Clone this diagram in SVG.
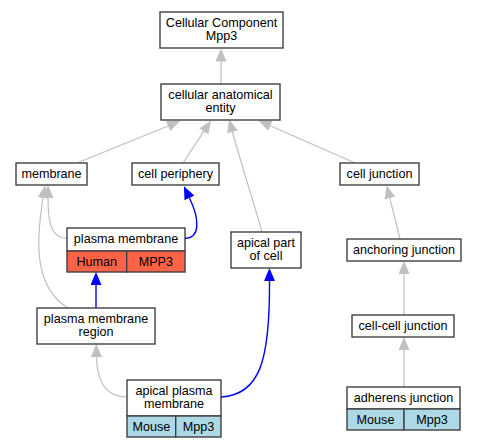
<svg xmlns="http://www.w3.org/2000/svg" width="477" height="448" viewBox="0 0 477 448">
<defs>
<style>
.n{fill:#fff;stroke:#404040;stroke-width:1.4}
.h{fill:#ff6347;stroke:#404040;stroke-width:1.4}
.m{fill:#add8e6;stroke:#404040;stroke-width:1.4}
text{font-family:"Liberation Sans",Arial,sans-serif;font-size:12.6px;fill:#000;text-anchor:middle}
.g{fill:none;stroke:#c0c0c0;stroke-width:1.2}
.b{fill:none;stroke:#0000ff;stroke-width:1.4}
</style>
<marker id="ag" markerUnits="userSpaceOnUse" viewBox="0 0 13 11" refX="0" refY="5.5" markerWidth="13" markerHeight="11" orient="auto"><polygon points="0,0 13,5.5 0,11" fill="#c0c0c0"/></marker>
<marker id="ab" markerUnits="userSpaceOnUse" viewBox="0 0 13 11" refX="0" refY="5.5" markerWidth="13" markerHeight="11" orient="auto"><polygon points="0,0 13,5.5 0,11" fill="#0000ff"/></marker>
</defs>
<rect width="477" height="448" fill="#fff"/>
<g id="edges">
<path class="g" marker-end="url(#ag)" d="M221,84 L221,61.5"/>
<path class="g" marker-end="url(#ag)" d="M77,163 L168,126"/>
<path class="g" marker-end="url(#ag)" d="M183,163 L203.8,131.4"/>
<path class="g" marker-end="url(#ag)" d="M262,232 C256,210 240,160 232.5,132"/>
<path class="g" marker-end="url(#ag)" d="M355,163 L270.4,125.7"/>
<path class="g" marker-end="url(#ag)" d="M67,238.5 C52,238 48,225 48,198"/>
<path class="g" marker-end="url(#ag)" d="M68,308 C30,285 38,230 43,198"/>
<path class="b" marker-end="url(#ab)" d="M185,238.5 C200,238 200,220 189.5,198"/>
<path class="b" marker-end="url(#ab)" d="M96,308 L96,285"/>
<path class="g" marker-end="url(#ag)" d="M127,397 C105,397 97,380 96.5,357"/>
<path class="b" marker-end="url(#ab)" d="M221,397 C260,395 270,360 269.5,281"/>
<path class="g" marker-end="url(#ag)" d="M400,239 L389.8,198.1"/>
<path class="g" marker-end="url(#ag)" d="M404,315 L404,274"/>
<path class="g" marker-end="url(#ag)" d="M404,387 L404,350"/>
</g>
<g id="ccm"><rect class="n" x="160" y="12" width="123" height="36"/><text x="221.5" y="26.5">Cellular Component</text><text x="221.5" y="39.5">Mpp3</text></g>
<g id="cae"><rect class="n" x="161" y="84" width="119" height="36"/><text x="220.5" y="98.5">cellular anatomical</text><text x="220.5" y="111.5">entity</text></g>
<g id="membrane"><rect class="n" x="16" y="163" width="71" height="22"/><text x="51.5" y="177.8">membrane</text></g>
<g id="cellperiphery"><rect class="n" x="132" y="163" width="87" height="22"/><text x="175.5" y="177.8">cell periphery</text></g>
<g id="celljunction"><rect class="n" x="340" y="163" width="79" height="22"/><text x="379.5" y="177.8">cell junction</text></g>
<g id="plasmamembrane"><rect class="n" x="67" y="228" width="118" height="23"/><rect class="h" x="67" y="251" width="59.7" height="21"/><rect class="h" x="126.7" y="251" width="58.3" height="21"/><text x="126" y="243">plasma membrane</text><text x="96.8" y="265.5">Human</text><text x="155.8" y="265.5">MPP3</text></g>
<g id="apicalpart"><rect class="n" x="231" y="232" width="70" height="36"/><text x="266" y="246.5">apical part</text><text x="266" y="259.5">of cell</text></g>
<g id="anchoring"><rect class="n" x="347" y="239" width="114" height="22"/><text x="404" y="253.8">anchoring junction</text></g>
<g id="pmr"><rect class="n" x="37" y="308" width="118" height="36"/><text x="96" y="322.5">plasma membrane</text><text x="96" y="335.5">region</text></g>
<g id="cellcell"><rect class="n" x="352" y="315" width="102" height="22"/><text x="403" y="329.8">cell-cell junction</text></g>
<g id="apm"><rect class="n" x="127" y="380" width="94" height="36"/><rect class="m" x="127" y="416" width="48.7" height="21"/><rect class="m" x="175.7" y="416" width="45.3" height="21"/><text x="174" y="394.5">apical plasma</text><text x="174" y="407.5">membrane</text><text x="151.4" y="430.5">Mouse</text><text x="198.4" y="430.5">Mpp3</text></g>
<g id="adherens"><rect class="n" x="347" y="387" width="113" height="22"/><rect class="m" x="347" y="409" width="57" height="21"/><rect class="m" x="404" y="409" width="56" height="21"/><text x="403.5" y="402">adherens junction</text><text x="375.5" y="423.5">Mouse</text><text x="432" y="423.5">Mpp3</text></g>
</svg>
